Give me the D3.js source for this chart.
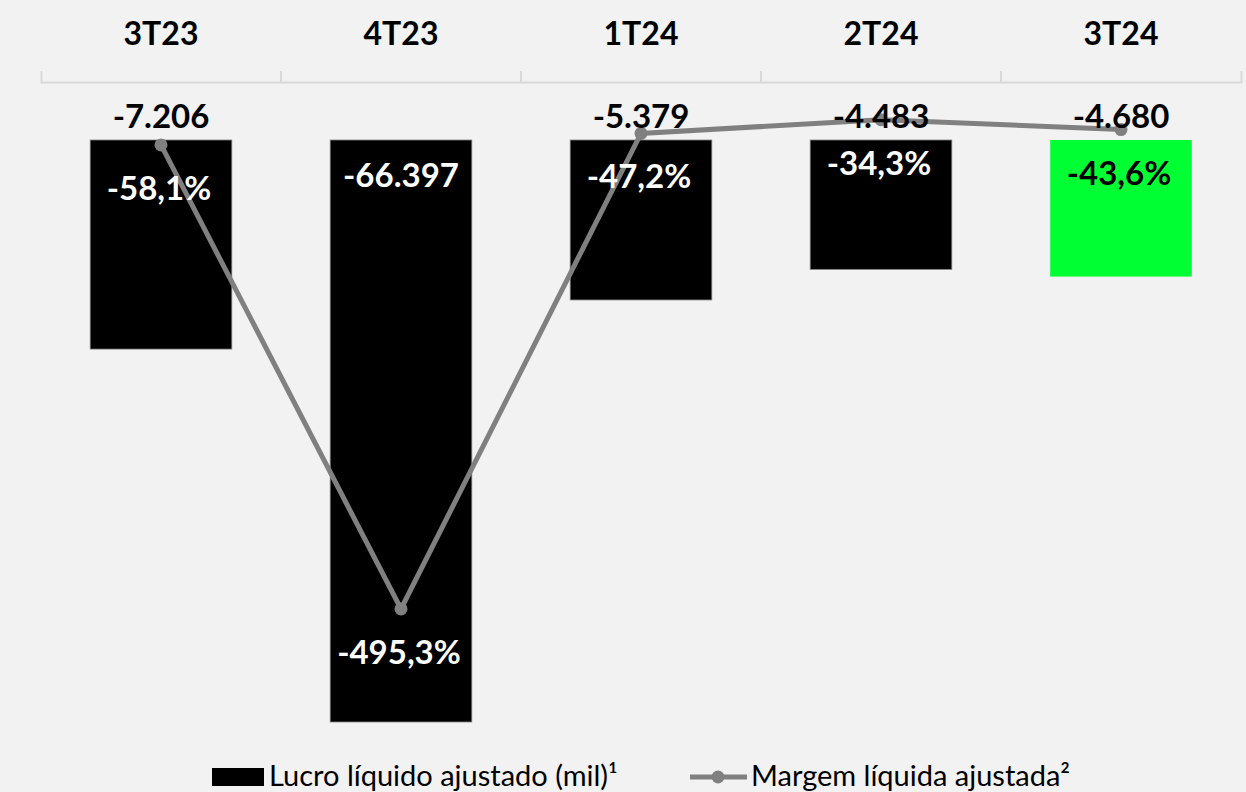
<!doctype html>
<html lang="pt-BR">
  <head>
    <meta charset="utf-8">
    <title>Lucro líquido ajustado</title>
    <script src="https://d3js.org/d3.v7.min.js"></script>
    <style>
      body { margin: 0; background: #f2f2f2; }
      svg { display: block; font-family: Lato, "Open Sans", sans-serif; }
    </style>
  </head>
  <body>
    <svg width="1246" height="792"></svg>
    <script>
      var categories = ['3T23', '4T23', '1T24', '2T24', '3T24'];
      var lucro = [-7206, -66397, -5379, -4483, -4680];     // Lucro líquido ajustado (mil)
      var margem = [-58.1, -495.3, -47.2, -34.3, -43.6];    // Margem líquida ajustada (%)

      var svg = d3.select('svg');

      var ptBR = d3.formatLocale({decimal: ',', thousands: '.', grouping: [3], currency: ['R$', ''], minus: '-'});
      var fmtLucro = ptBR.format(',');
      var fmtMargem = function(v) { return ptBR.format(',.1f')(v) + '%'; };

      var x = d3.scaleBand()
        .domain(categories)
        .range([41, 1241])
        .paddingInner(0.41)
        .paddingOuter(0.205);

      // bar depth follows a log scale of the loss
      var yBar = d3.scaleLog()
        .domain([2075, 66397])
        .range([140, 722]);

      var yLine = d3.scaleLinear()
        .domain([0, -500])
        .range([83.3, 83.3 + 500 * 1.0613]);

      var cx = function(d, i) { return x(categories[i]) + x.bandwidth() / 2; };

      // top category axis
      var axis = svg.append('g')
        .attr('transform', 'translate(0,82)')
        .call(d3.axisTop(x).tickSize(0).tickSizeOuter(11).tickPadding(37));
      axis.attr('font-family', null).attr('font-size', null);
      axis.select('.domain').attr('stroke', '#d9d9d9').attr('stroke-width', 2);
      axis.selectAll('text')
        .attr('fill', '#000')
        .style('font-size', '32px')
        .style('font-weight', 'bold');

      var gap = (x.step() - x.bandwidth()) / 2;
      axis.selectAll('line.sep')
        .data(categories.slice(1))
        .enter().append('line')
        .attr('class', 'sep')
        .attr('x1', function(d) { return x(d) - gap; })
        .attr('x2', function(d) { return x(d) - gap; })
        .attr('y1', -11)
        .attr('y2', 0)
        .attr('stroke', '#d9d9d9')
        .attr('stroke-width', 2);

      var last = categories.length - 1;
      var barTop = yBar.range()[0];
      var isDeep = function(d) { return yBar(-d) - barTop > 300; };

      // bars
      svg.selectAll('rect.bar')
        .data(lucro)
        .enter().append('rect')
        .attr('class', 'bar')
        .attr('x', function(d, i) { return x(categories[i]); })
        .attr('width', x.bandwidth())
        .attr('y', barTop)
        .attr('height', function(d) { return yBar(-d) - barTop; })
        .attr('fill', function(d, i) { return i === last ? '#00ff33' : '#000'; })
        .attr('stroke', function(d, i) { return i === last ? 'none' : '#7f7f7f'; })
        .attr('stroke-width', 0.8);

      // margin line
      var line = d3.line()
        .x(cx)
        .y(function(d) { return yLine(d); });

      svg.append('path')
        .datum(margem)
        .attr('d', line)
        .attr('fill', 'none')
        .attr('stroke', '#808080')
        .attr('stroke-width', 5);

      svg.selectAll('circle.pt')
        .data(margem)
        .enter().append('circle')
        .attr('class', 'pt')
        .attr('cx', cx)
        .attr('cy', function(d) { return yLine(d); })
        .attr('r', 6.5)
        .attr('fill', '#808080');

      // value labels
      svg.selectAll('text.lucro')
        .data(lucro)
        .enter().append('text')
        .attr('class', 'lucro')
        .attr('text-anchor', 'middle')
        .attr('x', cx)
        .attr('y', function(d) { return isDeep(d) ? barTop + 47 : barTop - 12; })
        .attr('fill', function(d) { return isDeep(d) ? '#fff' : '#000'; })
        .style('font-size', '33px')
        .style('font-weight', 'bold')
        .text(function(d) { return fmtLucro(d); });

      svg.selectAll('text.margem')
        .data(margem)
        .enter().append('text')
        .attr('class', 'margem')
        .attr('text-anchor', 'middle')
        .attr('x', function(d, i) { return cx(d, i) - 2; })
        .attr('y', function(d) { return yLine(d) + 55; })
        .attr('fill', function(d, i) { return i === last ? '#000' : '#fff'; })
        .style('font-size', '33px')
        .style('font-weight', 'bold')
        .text(function(d) { return fmtMargem(d); });

      // legend
      var legend = svg.append('g');
      legend.append('rect')
        .attr('x', 212).attr('y', 768)
        .attr('width', 52).attr('height', 18)
        .attr('fill', '#000');
      legend.append('text')
        .attr('x', 269).attr('y', 786)
        .style('font-size', '29px')
        .text('Lucro líquido ajustado (mil)¹');
      legend.append('line')
        .attr('x1', 690).attr('x2', 747)
        .attr('y1', 777).attr('y2', 777)
        .attr('stroke', '#808080')
        .attr('stroke-width', 5);
      legend.append('circle')
        .attr('cx', 718).attr('cy', 777)
        .attr('r', 6.5)
        .attr('fill', '#808080');
      legend.append('text')
        .attr('x', 751).attr('y', 786)
        .style('font-size', '29px')
        .text('Margem líquida ajustada²');
    </script>
  </body>
</html>
